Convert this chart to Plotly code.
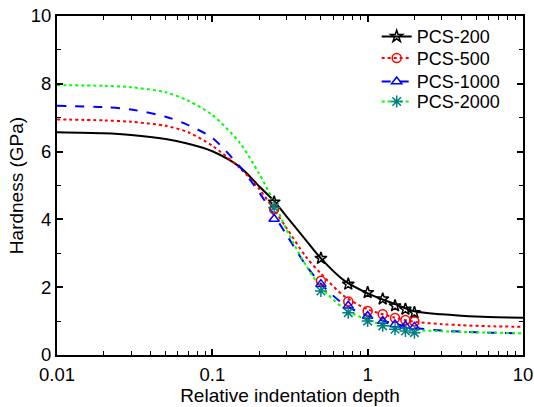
import plotly.graph_objects as go

# ---- data ----
curve_x = [0.01, 0.02, 0.03, 0.05, 0.07, 0.1, 0.15, 0.2, 0.25, 0.3, 0.4, 0.5, 0.7, 1.0, 1.5, 2.0, 3.0, 4.0, 6.0, 10.0]
pcs200_curve = [6.57, 6.54, 6.49, 6.37, 6.23, 6.01, 5.55, 4.98, 4.54, 4.09, 3.39, 2.85, 2.21, 1.82, 1.50, 1.29, 1.20, 1.16, 1.12, 1.10]
pcs500_curve = [6.95, 6.92, 6.88, 6.76, 6.57, 6.17, 5.52, 4.90, 4.28, 3.75, 2.90, 2.40, 1.75, 1.35, 1.10, 0.98, 0.91, 0.88, 0.85, 0.83]
pcs1000_curve = [7.35, 7.31, 7.24, 7.03, 6.78, 6.40, 5.56, 4.80, 4.12, 3.55, 2.65, 2.10, 1.50, 1.15, 0.92, 0.80, 0.72, 0.69, 0.66, 0.64]
pcs2000_curve = [7.96, 7.94, 7.90, 7.75, 7.50, 7.08, 6.26, 5.35, 4.50, 3.70, 2.65, 2.00, 1.38, 1.03, 0.82, 0.74, 0.70, 0.68, 0.66, 0.64]

point_x = [0.25, 0.5, 0.75, 1.0, 1.25, 1.5, 1.75, 2.0]
pcs200_pts = [4.51, 2.85, 2.09, 1.84, 1.65, 1.45, 1.35, 1.25]
pcs500_pts = [4.30, 2.19, 1.58, 1.30, 1.20, 1.09, 1.03, 0.99]
pcs1000_pts = [4.01, 2.09, 1.45, 1.15, 1.00, 0.90, 0.86, 0.83]
pcs2000_pts = [4.35, 1.89, 1.25, 1.00, 0.86, 0.76, 0.71, 0.66]

series_names = ["PCS-200", "PCS-500", "PCS-1000", "PCS-2000"]
x_tick_vals = [0.01, 0.1, 1, 10]
x_tick_text = ["0.01", "0.1", "1", "10"]
y_tick_vals = [0, 2, 4, 6, 8, 10]

curves = [pcs200_curve, pcs500_curve, pcs1000_curve, pcs2000_curve]
points = [pcs200_pts, pcs500_pts, pcs1000_pts, pcs2000_pts]
line_colors = ["black", "red", "blue", "#00ff00"]
marker_colors = ["black", "red", "blue", "#008080"]
dashes = ["solid", "dot", "dash", "dot"]
symbols = ["star-open", "circle-open", "triangle-up-open", "asterisk-open"]
msizes = [9, 9, 9, 10]
legend_ids = ["legend", "legend2", "legend3", "legend4"]
legend_rows_y = [0.939, 0.875, 0.806, 0.747]

fig = go.Figure()
for i in range(4):
    fig.add_trace(go.Scatter(
        x=curve_x, y=curves[i], mode="lines",
        line=dict(color=line_colors[i], width=2, dash=dashes[i], shape="spline", smoothing=0.8),
        showlegend=False, hoverinfo="skip"))
for i in range(4):
    fig.add_trace(go.Scatter(
        x=point_x, y=points[i], mode="markers",
        marker=dict(symbol=symbols[i], size=msizes[i], color=marker_colors[i], line=dict(width=1.5, color=marker_colors[i])),
        showlegend=False))
for i in range(4):
    fig.add_trace(go.Scatter(
        x=[None], y=[None], mode="lines+markers", name=series_names[i], legend=legend_ids[i],
        line=dict(color=line_colors[i], width=2, dash=dashes[i]),
        marker=dict(symbol=symbols[i], size=msizes[i], color=marker_colors[i], line=dict(width=1.5, color=marker_colors[i]))))

font_family = "Liberation Sans, Arial"
axis_common = dict(showline=True, linecolor="black", linewidth=2, mirror="ticks", ticks="inside",
                   tickcolor="black", tickwidth=1.5, ticklen=6, showgrid=False, zeroline=False, automargin=False,
                   ticklabeloverflow="allow",
                   tickfont=dict(family=font_family, size=18.5, color="black"))

fig.update_xaxes(type="log", range=[-2, 1], tickvals=x_tick_vals, ticktext=x_tick_text, ticklabelstandoff=2,
                 minor=dict(ticks="inside", ticklen=4, tickcolor="black", tickwidth=1.2,
                            tickvals=[a * b for a in [0.01, 0.1, 1] for b in range(2, 10)]),
                 title=dict(text="Relative indentation depth", font=dict(family=font_family, size=19, color="black"), standoff=2),
                 **axis_common)
fig.update_yaxes(range=[0, 10], tickvals=y_tick_vals,
                 minor=dict(ticks="inside", ticklen=4, tickcolor="black", tickwidth=1.2, dtick=1),
                 title=dict(text="Hardness (GPa)", font=dict(family=font_family, size=19, color="black"), standoff=2),
                 **axis_common)

legend_style = dict(x=0.686, xanchor="left", yanchor="middle", bgcolor="rgba(0,0,0,0)",
                    font=dict(family=font_family, size=18, color="black"), itemwidth=30)
layout_legends = {legend_ids[i]: dict(y=legend_rows_y[i], **legend_style) for i in range(4)}

fig.update_layout(
    width=534, height=407,
    margin=dict(l=57, r=11, t=16, b=52),
    plot_bgcolor="white", paper_bgcolor="white",
    font=dict(family=font_family, color="black"),
    **layout_legends,
)

fig.write_html("out.html", config={"displayModeBar": False},
               post_script="document.body.style.margin='0px';")
